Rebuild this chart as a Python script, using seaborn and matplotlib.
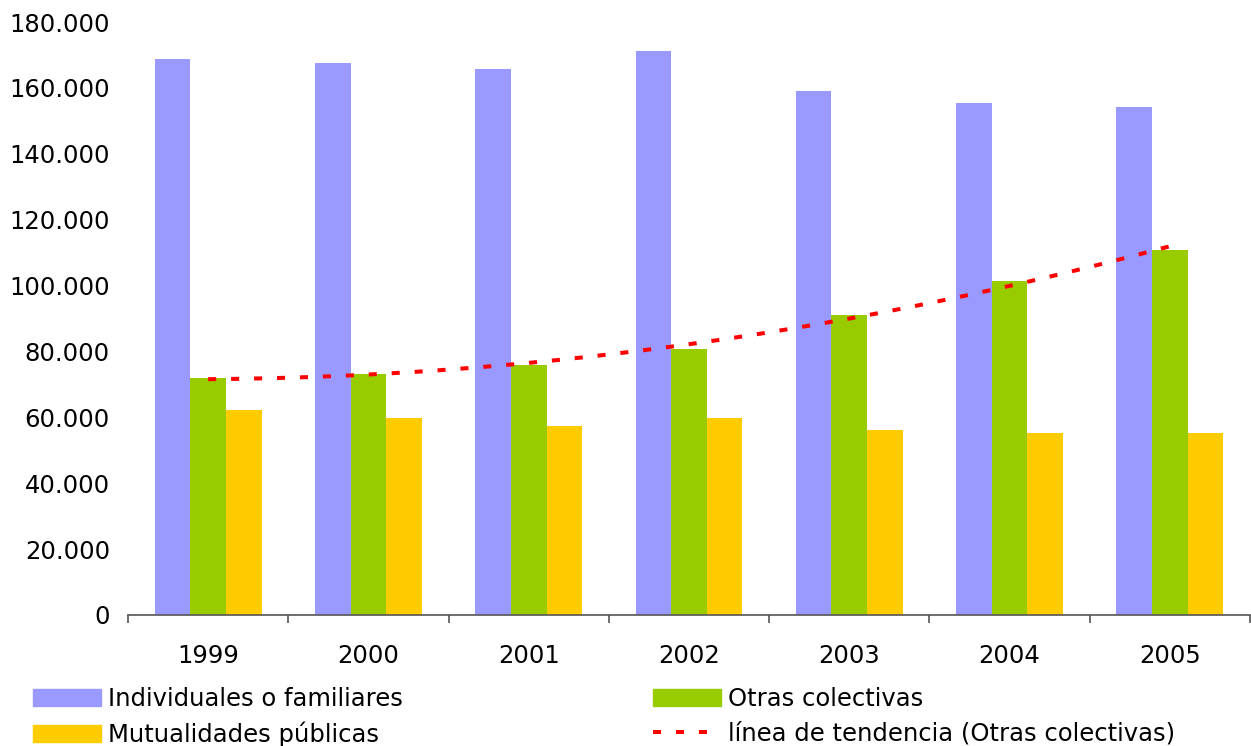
import numpy as np
import pandas as pd
import matplotlib
matplotlib.use("Agg")
import matplotlib.pyplot as plt
import seaborn as sns
from matplotlib.patches import Patch
from matplotlib.lines import Line2D
from matplotlib.ticker import FuncFormatter, FixedLocator

years = ["1999", "2000", "2001", "2002", "2003", "2004", "2005"]
individuales = [168800, 167600, 165800, 171200, 159100, 155400, 154200]
otras = [71900, 73200, 75900, 80800, 91100, 101400, 110800]
mutualidades = [62200, 59800, 57400, 59800, 56200, 55300, 55300]
series_names = ["Individuales o familiares", "Otras colectivas", "Mutualidades públicas"]
trend_name = "línea de tendencia (Otras colectivas)"
colors = ["#9999FF", "#99CC00", "#FFCC00"]

df = pd.DataFrame({
    "year": years * 3,
    "value": individuales + otras + mutualidades,
    "serie": [series_names[0]] * 7 + [series_names[1]] * 7 + [series_names[2]] * 7,
})

sns.set_theme(style="white")
plt.rcParams["font.family"] = ["DejaVu Sans"]

fig = plt.figure(figsize=(12.51, 7.46), dpi=100)
ax = fig.add_axes([128 / 1251, 131 / 746, 1122 / 1251, 593 / 746])

sns.barplot(data=df, x="year", y="value", hue="serie", palette=colors,
            width=0.667, gap=0, saturation=1, ax=ax, legend=False, errorbar=None,
            linewidth=0, edgecolor="none")

# polynomial trend line (order 2) of Otras colectivas
xi = np.arange(len(years))
coef = np.polyfit(xi, np.array(otras, dtype=float), 2)
xs = np.linspace(0, len(years) - 1, 200)
trend_style = dict(color="#FF0000", lw=2.9, dashes=(2.0, 3.7))
ax.plot(xs, np.polyval(coef, xs), **trend_style)

ax.set_ylim(0, 180000)
ax.set_xlim(-0.5, len(years) - 0.5)
ax.set_yticks(np.arange(0, 180001, 20000))
ax.yaxis.set_major_formatter(FuncFormatter(lambda v, p: f"{int(v):,}".replace(",", ".")))
ax.set_xlabel("")
ax.set_ylabel("")
for s in ["top", "right", "left"]:
    ax.spines[s].set_visible(False)
ax.spines["bottom"].set_color("#555555")
ax.spines["bottom"].set_linewidth(1.2)
ax.tick_params(axis="y", length=0, pad=13, labelsize=17.5, labelcolor="black")
ax.tick_params(axis="x", which="major", length=0, pad=21, labelsize=17.5, labelcolor="black")
ax.xaxis.set_minor_locator(FixedLocator(np.arange(-0.5, len(years), 1.0)))
ax.tick_params(axis="x", which="minor", length=5.5, width=1.2, color="#555555", direction="out", bottom=True)
ax.grid(False)

h1 = [Patch(color=colors[0]), Patch(color=colors[2])]
h2 = [Patch(color=colors[1]), Line2D([0], [0], **trend_style)]
kw = dict(frameon=False, fontsize=17.5, handlelength=2.8, handleheight=0.7,
          handletextpad=0.3, labelspacing=0.43, borderpad=0, borderaxespad=0,
          loc="upper left", labelcolor="black")
fig.legend(h1, [series_names[0], series_names[2]], bbox_to_anchor=(33 / 1251, 1 - 687 / 746), **kw)
fig.legend(h2, [series_names[1], trend_name], bbox_to_anchor=(653 / 1251, 1 - 687 / 746), **kw)

fig.savefig("out.png", dpi=100)
